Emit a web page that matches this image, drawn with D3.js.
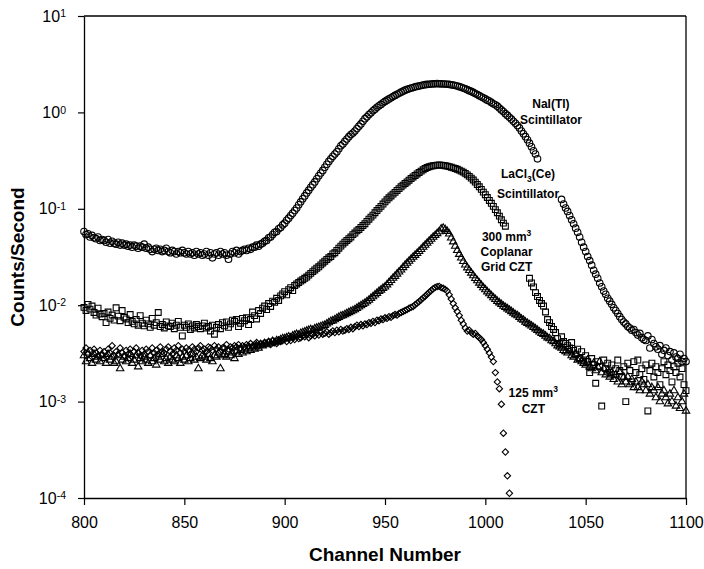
<!DOCTYPE html>
<html>
<head>
<meta charset="utf-8">
<script src="https://cdn.jsdelivr.net/npm/d3@7"></script>
<style>
  body { margin: 0; background: #fff; }
  svg { display: block; font-family: Arial, "Liberation Sans", sans-serif; }
</style>
</head>
<body>
<svg id="chart" width="704" height="569"></svg>
<script>
// Channel numbers (index 0 = channel 800, one point per channel)
const channels = d3.range(800, 1101);
const xTicks = [800, 850, 900, 950, 1000, 1050, 1100];
const yTickExponents = [-4, -3, -2, -1, 0, 1];

// NaI(Tl) scintillator - circles (null = hidden behind a label)
const naiCounts = [
  0.058, 0.054, 0.055, 0.051, 0.053, 0.050, 0.049, 0.051, 0.047, 0.048,
  0.047, 0.045, 0.048, 0.044, 0.046, 0.044, 0.043, 0.045, 0.042, 0.044,
  0.042, 0.043, 0.041, 0.042, 0.040, 0.042, 0.041, 0.039, 0.041, 0.040,
  0.043, 0.039, 0.040, 0.038, 0.036, 0.038, 0.039, 0.037, 0.038, 0.036,
  0.037, 0.039, 0.036, 0.035, 0.037, 0.036, 0.034, 0.036, 0.035, 0.037,
  0.035, 0.034, 0.036, 0.034, 0.035, 0.033, 0.036, 0.034, 0.035, 0.033,
  0.034, 0.036, 0.033, 0.035, 0.031, 0.034, 0.035, 0.033, 0.036, 0.034,
  0.035, 0.033, 0.030, 0.034, 0.036, 0.035, 0.037, 0.034, 0.036, 0.037,
  0.038, 0.037, 0.039, 0.038, 0.040, 0.040, 0.042, 0.041, 0.043, 0.044,
  0.046, 0.047, 0.050, 0.051, 0.054, 0.057, 0.058, 0.062, 0.064, 0.068,
  0.071, 0.076, 0.080, 0.085, 0.090, 0.096, 0.102, 0.110, 0.118, 0.127,
  0.136, 0.146, 0.156, 0.167, 0.178, 0.19, 0.205, 0.22, 0.235, 0.25,
  0.27, 0.29, 0.31, 0.33, 0.35, 0.37, 0.39, 0.42, 0.45, 0.47,
  0.50, 0.53, 0.56, 0.59, 0.61, 0.64, 0.68, 0.72, 0.76, 0.81,
  0.86, 0.90, 0.95, 0.99, 1.04, 1.08, 1.13, 1.17, 1.21, 1.26,
  1.30, 1.34, 1.38, 1.42, 1.46, 1.50, 1.54, 1.58, 1.62, 1.66,
  1.70, 1.73, 1.76, 1.79, 1.81, 1.84, 1.86, 1.88, 1.90, 1.92,
  1.94, 1.95, 1.96, 1.97, 1.98, 1.98, 1.99, 1.98, 1.98, 1.97,
  1.97, 1.96, 1.95, 1.93, 1.92, 1.90, 1.88, 1.85, 1.82, 1.79,
  1.76, 1.72, 1.68, 1.65, 1.61, 1.57, 1.53, 1.49, 1.45, 1.42,
  1.38, 1.34, 1.31, 1.27, 1.23, 1.20, 1.16, 1.11, 1.06, 1.02,
  0.97, 0.93, 0.89, 0.85, 0.81, 0.77, 0.73, 0.69, 0.64, 0.60,
  0.56, 0.52, 0.48, 0.44, 0.40, 0.37, 0.33, null, null, null,
  null, null, null, null, null, null, null, null, 0.125, 0.112,
  0.102, 0.094, 0.085, 0.077, 0.070, 0.063, 0.057, 0.051, 0.045, 0.040,
  0.036, 0.032, 0.029, 0.026, 0.023, 0.021, 0.019, 0.017, 0.0155, 0.014,
  0.013, 0.0118, 0.011, 0.0102, 0.0094, 0.0088, 0.0082, 0.0076, 0.0071, 0.0067,
  0.0064, 0.0060, 0.0058, 0.0055, 0.0056, 0.0052, 0.0049, 0.0051, 0.0046, 0.0044,
  0.0043, 0.0048, 0.0036, 0.0044, 0.0040, 0.0037, 0.0035, 0.0038, 0.0031, 0.0034,
  0.0036, 0.0030, 0.0033, 0.0027, 0.0032, 0.0029, 0.0028, 0.0031, 0.0026, 0.0028,
  0.0026
];

// LaCl3(Ce) scintillator - squares
const laclCounts = [
  0.0095, 0.0088, 0.0102, 0.0091, 0.0098, 0.0084, 0.0079, 0.0093, 0.0081, 0.0076,
  0.0082, 0.0066, 0.0085, 0.0073, 0.0079, 0.0070, 0.0094, 0.0077, 0.0069, 0.0088,
  0.0075, 0.0072, 0.0066, 0.0080, 0.0068, 0.0064, 0.0071, 0.0062, 0.0078, 0.0065,
  0.0061, 0.0070, 0.0064, 0.0059, 0.0073, 0.0062, 0.0066, 0.0084, 0.0060, 0.0063,
  0.0058, 0.0067, 0.0061, 0.0060, 0.0065, 0.0057, 0.0062, 0.0068, 0.0059, 0.0048,
  0.0062, 0.0059, 0.0064, 0.0056, 0.0061, 0.0058, 0.0063, 0.0060, 0.0057, 0.0061,
  0.0065, 0.0058, 0.0060, 0.0054, 0.0062, 0.0050, 0.0059, 0.0063, 0.0057, 0.0066,
  0.0061, 0.0067, 0.0059, 0.0064, 0.0070, 0.0068, 0.0071, 0.0060, 0.0065, 0.0073,
  0.0069, 0.0074, 0.0063, 0.0071, 0.0085, 0.0078, 0.0072, 0.0088, 0.0082, 0.0093,
  0.0098, 0.0090, 0.0104, 0.0097, 0.0110, 0.0107, 0.0118, 0.0112, 0.0125, 0.0131,
  0.0138, 0.0128, 0.0145, 0.0152, 0.0142, 0.0160, 0.0166, 0.0172, 0.0178, 0.0184,
  0.0190, 0.0196, 0.0205, 0.0214, 0.0223, 0.0232, 0.0242, 0.0250, 0.0262, 0.0274,
  0.0286, 0.0298, 0.031, 0.032, 0.034, 0.035, 0.037, 0.039, 0.041, 0.043,
  0.045, 0.047, 0.049, 0.051, 0.054, 0.056, 0.059, 0.061, 0.064, 0.067,
  0.070, 0.074, 0.078, 0.082, 0.086, 0.091, 0.096, 0.101, 0.106, 0.112,
  0.118, 0.124, 0.130, 0.136, 0.142, 0.148, 0.155, 0.162, 0.169, 0.176,
  0.183, 0.190, 0.198, 0.206, 0.214, 0.222, 0.230, 0.238, 0.246, 0.254,
  0.262, 0.268, 0.273, 0.277, 0.280, 0.282, 0.284, 0.285, 0.284, 0.282,
  0.280, 0.277, 0.274, 0.270, 0.266, 0.262, 0.257, 0.252, 0.246, 0.240,
  0.233, 0.225, 0.217, 0.208, 0.199, 0.189, 0.179, 0.169, 0.159, 0.149,
  0.140, 0.131, 0.122, 0.114, 0.106, 0.098, 0.091, 0.084, 0.077, 0.071,
  0.066, null, null, null, null, null, null, null, null, null,
  null, null, 0.019, 0.017, 0.0155, 0.0135, 0.0123, 0.0112, 0.0104, 0.0098,
  0.0085, 0.0071, 0.0066, 0.0060, 0.0056, 0.0052, 0.0045, 0.0040, 0.0047, 0.0042,
  0.0040, 0.0038, 0.0036, 0.0041, 0.0034, 0.0031, 0.0035, 0.0028, 0.0033, 0.0027,
  0.0030, 0.0026, 0.0020, 0.0028, 0.0024, 0.00155, 0.0026, 0.0023, 0.00090, 0.0027,
  0.0022, 0.0025, 0.0020, 0.0024, 0.0019, 0.0022, 0.0027, 0.0021, 0.0018, 0.0023,
  0.0010, 0.0025, 0.0021, 0.0016, 0.0026, 0.0020, 0.0027, 0.0019, 0.0022, 0.0017,
  0.0024, 0.0008, 0.0021, 0.0025, 0.0018, 0.0023, 0.0020, 0.0015, 0.0022, 0.0026,
  0.0019, 0.0024, 0.0021, 0.0016, 0.0023, 0.0020, 0.0025, 0.0018, 0.0022, 0.0015,
  0.0013
];

// 300 mm3 coplanar grid CZT - triangles
const czt300Counts = [
  0.0030, 0.0026, 0.0032, 0.0028, 0.0025, 0.0031, 0.0027, 0.0029, 0.0026, 0.0030,
  0.0028, 0.0025, 0.0031, 0.0027, 0.0029, 0.0025, 0.0026, 0.0030, 0.0022, 0.0027,
  0.0029, 0.0026, 0.0028, 0.0031, 0.0025, 0.0027, 0.0030, 0.0023, 0.0028, 0.0026,
  0.0029, 0.0027, 0.0025, 0.0030, 0.0026, 0.0028, 0.0024, 0.0029, 0.0027, 0.0031,
  0.0026, 0.0028, 0.0025, 0.0029, 0.0027, 0.0026, 0.0030, 0.0028, 0.0025, 0.0029,
  0.0027, 0.0030, 0.0026, 0.0028, 0.0031, 0.0027, 0.0029, 0.0022, 0.0028, 0.0030,
  0.0029, 0.0027, 0.0031, 0.0028, 0.0026, 0.0030, 0.0029, 0.0032, 0.0022, 0.0030,
  0.0031, 0.0029, 0.0033, 0.0030, 0.0032, 0.0028, 0.0033, 0.0031, 0.0034, 0.0032,
  0.0035, 0.0033, 0.0036, 0.0034, 0.0037, 0.0035, 0.0038, 0.0036, 0.0039, 0.0038,
  0.0040, 0.0039, 0.0041, 0.0040, 0.0042, 0.0041, 0.0043, 0.0042, 0.0044, 0.0045,
  0.0045, 0.0046, 0.0047, 0.0046, 0.0048, 0.0049, 0.0050, 0.0049, 0.0051, 0.0052,
  0.0053, 0.0054, 0.0055, 0.0056, 0.0055, 0.0057, 0.0058, 0.0059, 0.0060, 0.0061,
  0.0062, 0.0064, 0.0066, 0.0068, 0.0069, 0.0071, 0.0073, 0.0075, 0.0077, 0.0078,
  0.0080, 0.0082, 0.0084, 0.0086, 0.0088, 0.0090, 0.0093, 0.0096, 0.0099, 0.0102,
  0.0105, 0.0109, 0.0113, 0.0118, 0.0123, 0.0128, 0.0133, 0.0139, 0.0144, 0.0150,
  0.0155, 0.0163, 0.0172, 0.0181, 0.0191, 0.0200, 0.0211, 0.0222, 0.0233, 0.0246,
  0.0260, 0.0273, 0.0287, 0.0301, 0.0316, 0.0330, 0.0345, 0.0362, 0.0380, 0.0400,
  0.0420, 0.0440, 0.0462, 0.0485, 0.0508, 0.0530, 0.0555, 0.0580, 0.0620, 0.0630,
  0.0610, 0.0585, 0.0550, 0.0500, 0.0455, 0.0410, 0.0370, 0.0338, 0.0310, 0.0285,
  0.0262, 0.0245, 0.0230, 0.0216, 0.0203, 0.0190, 0.0180, 0.0170, 0.0161, 0.0152,
  0.0145, 0.0138, 0.0132, 0.0126, 0.0120, 0.0115, 0.0110, 0.0106, 0.0102, 0.0098,
  0.0095, 0.0092, 0.0089, 0.0086, 0.0083, 0.0080, 0.0078, 0.0075, 0.0072, 0.0070,
  0.0067, 0.0065, 0.0063, 0.0061, 0.0059, 0.0057, 0.0055, 0.0053, 0.0051, 0.0050,
  0.0048, 0.0046, 0.0045, 0.0043, 0.0042, 0.0040, 0.0038, 0.0037, 0.0036, 0.0034,
  0.0033, 0.0032, 0.0034, 0.0030, 0.0029, 0.0031, 0.0027, 0.0028, 0.0026, 0.0025,
  0.0024, 0.0027, 0.0023, 0.0022, 0.0025, 0.0021, 0.0023, 0.0026, 0.0020, 0.0022,
  0.0019, 0.0021, 0.0018, 0.0020, 0.0017, 0.0019, 0.0016, 0.0020, 0.0015, 0.0018,
  0.0016, 0.0018, 0.0015, 0.0017, 0.0014, 0.0016, 0.0014, 0.0013, 0.0016, 0.0015,
  0.0013, 0.0015, 0.0012, 0.0014, 0.0013, 0.0011, 0.0014, 0.0010, 0.0012, 0.0013,
  0.0011, 0.00095, 0.0012, 0.0010, 0.0013, 0.0009, 0.0011, 0.00085, 0.0010, 0.0012,
  0.0008
];

// 125 mm3 CZT - diamonds (ends at channel 1012)
const czt125Counts = [
  0.0033, 0.0036, 0.0031, 0.0034, 0.0029, 0.0035, 0.0032, 0.0030, 0.0034, 0.0031,
  0.0033, 0.0029, 0.0035, 0.0032, 0.0038, 0.0030, 0.0033, 0.0031, 0.0036, 0.0032,
  0.0030, 0.0034, 0.0031, 0.0035, 0.0029, 0.0033, 0.0036, 0.0032, 0.0030, 0.0034,
  0.0031, 0.0035, 0.0033, 0.0030, 0.0036, 0.0032, 0.0034, 0.0031, 0.0037, 0.0033,
  0.0032, 0.0035, 0.0037, 0.0033, 0.0031, 0.0036, 0.0034, 0.0038, 0.0032, 0.0035,
  0.0033, 0.0036, 0.0034, 0.0031, 0.0037, 0.0035, 0.0033, 0.0036, 0.0038, 0.0034,
  0.0035, 0.0033, 0.0037, 0.0036, 0.0034, 0.0038, 0.0035, 0.0037, 0.0033, 0.0036,
  0.0036, 0.0039, 0.0035, 0.0037, 0.0036, 0.0038, 0.0037, 0.0039, 0.0036, 0.0038,
  0.0037, 0.0039, 0.0038, 0.0040, 0.0037, 0.0039, 0.0041, 0.0038, 0.0040, 0.0039,
  0.0041, 0.0040, 0.0042, 0.0039, 0.0043, 0.0041, 0.0040, 0.0044, 0.0042, 0.0043,
  0.0044, 0.0042, 0.0045, 0.0043, 0.0046, 0.0044, 0.0047, 0.0045, 0.0046, 0.0048,
  0.0047, 0.0049, 0.0046, 0.0048, 0.0050, 0.0048, 0.0051, 0.0049, 0.0052, 0.0050,
  0.0051, 0.0053, 0.0050, 0.0052, 0.0054, 0.0052, 0.0055, 0.0053, 0.0056, 0.0054,
  0.0055, 0.0057, 0.0056, 0.0059, 0.0057, 0.0060, 0.0062, 0.0060, 0.0063, 0.0061,
  0.0064, 0.0063, 0.0066, 0.0065, 0.0068, 0.0066, 0.0070, 0.0069, 0.0072, 0.0071,
  0.0074, 0.0073, 0.0076, 0.0075, 0.0078, 0.0080, 0.0079, 0.0082, 0.0084, 0.0086,
  0.0088, 0.0090, 0.0093, 0.0095, 0.0097, 0.0101, 0.0105, 0.0109, 0.0114, 0.0119,
  0.0124, 0.0130, 0.0136, 0.0142, 0.0148, 0.0153, 0.0156, 0.0157, 0.0152, 0.0150,
  0.0146, 0.0140, 0.0128, 0.0116, 0.0104, 0.0094, 0.0086, 0.0078, 0.0070, 0.0064,
  0.0058, 0.0054, 0.0055, 0.0052, 0.0050, 0.0051, 0.0048, 0.0046, 0.0044, 0.0041,
  0.0038, 0.0035, 0.0032, 0.0029, 0.0026, 0.0020, 0.0016, 0.00136, 0.00094, 0.00047,
  0.00030, 0.00017, 0.000112
];

// Series labels, anchored in data space (channel, counts/second)
const labelTexts = [
  ['NaI(Tl)', 'Scintillator'],
  ['LaCl_3(Ce)', 'Scintillator'],
  ['300 mm^3', 'Coplanar', 'Grid CZT'],
  ['125 mm^3', 'CZT']
];
const labelChannels = [1032.7, 1021.3, 1010.6, 1023.9];
const labelCounts = [1.10, 0.207, 0.0463, 0.00111];

// Layout
const width = 704, height = 569;
const margin = { top: 16, right: 18, bottom: 71, left: 84 };
const plotW = width - margin.left - margin.right;
const plotH = height - margin.top - margin.bottom;

const svg = d3.select('#chart');
const g = svg.append('g').attr('transform', `translate(${margin.left},${margin.top})`);

const x = d3.scaleLinear().domain([800, 1100]).range([0, plotW]);
const y = d3.scaleLog().domain([1e-4, 10]).range([plotH, 0]);

// Frame (top and right edges)
g.append('line')
    .attr('x1', 0).attr('x2', plotW).attr('y1', 0).attr('y2', 0)
    .attr('stroke', '#000').attr('stroke-width', 1.3);
g.append('line')
    .attr('x1', plotW).attr('x2', plotW).attr('y1', 0).attr('y2', plotH)
    .attr('stroke', '#000').attr('stroke-width', 1.3);

// X axis
const xAxis = g.append('g')
    .attr('transform', `translate(0,${plotH})`)
    .call(d3.axisBottom(x)
        .tickValues(xTicks)
        .tickFormat(d3.format('d'))
        .tickSize(7).tickSizeOuter(0).tickPadding(12));

// Y axis, labels drawn as 10 with superscript exponent
const yAxis = g.append('g')
    .call(d3.axisLeft(y)
        .tickValues(yTickExponents.map(e => Math.pow(10, e)))
        .tickSize(6).tickSizeOuter(0).tickPadding(12)
        .tickFormat(() => ''));

yAxis.selectAll('.tick text').each(function(d) {
    const t = d3.select(this);
    t.append('tspan').text('10');
    t.append('tspan')
        .attr('dy', -4.5)
        .attr('font-size', 10.5)
        .text(Math.round(Math.log10(d)));
});

[xAxis, yAxis].forEach(ax => {
    ax.attr('font-family', null).attr('font-size', null);
    ax.select('.domain').attr('stroke-width', 1.3);
    ax.selectAll('.tick line').attr('stroke-width', 1.2);
    ax.selectAll('.tick text').attr('font-size', 16).attr('fill', '#000');
});

// Axis titles
svg.append('text')
    .attr('x', margin.left + plotW / 2)
    .attr('y', 561)
    .attr('text-anchor', 'middle')
    .attr('font-weight', 'bold')
    .attr('font-size', 19)
    .text('Channel Number');

svg.append('text')
    .attr('transform', `translate(24,${margin.top + plotH / 2}) rotate(-90)`)
    .attr('text-anchor', 'middle')
    .attr('font-weight', 'bold')
    .attr('font-size', 19)
    .text('Counts/Second');

// Markers
const series = [
    { values: naiCounts, type: d3.symbolCircle, size: 34, rotate: 0 },
    { values: laclCounts, type: d3.symbolSquare, size: 34, rotate: 0 },
    { values: czt300Counts, type: d3.symbolTriangle, size: 24, rotate: 0 },
    { values: czt125Counts, type: d3.symbolSquare, size: 20, rotate: 45 }
];

series.forEach(s => {
    const pts = s.values
        .map((v, i) => ({ ch: channels[i], v: v }))
        .filter(d => d.v != null && d.v > 0);

    g.append('g')
        .selectAll('path')
        .data(pts)
        .enter().append('path')
        .attr('d', d3.symbol().type(s.type).size(s.size))
        .attr('transform', d => `translate(${x(d.ch)},${y(d.v)}) rotate(${s.rotate})`)
        .attr('fill', 'none')
        .attr('stroke', '#000')
        .attr('stroke-width', 1.1);
});

// Series labels (^ = superscript, _ = subscript)
const lineGaps = [16, 19.5, 15, 16];

function addRichLine(textSel, str) {
    const parts = str.split(/([_^]\w)/).filter(p => p !== '');
    let shift = 0;
    parts.forEach(p => {
        const span = textSel.append('tspan');
        if (p[0] === '^' || p[0] === '_') {
            const dy = p[0] === '^' ? -5 : 3.5;
            span.attr('dy', dy).attr('font-size', 8.5).text(p.slice(1));
            shift = -dy;
        } else {
            if (shift) span.attr('dy', shift);
            shift = 0;
            span.text(p);
        }
    });
}

labelTexts.forEach((lines, k) => {
    const lg = g.append('g')
        .attr('transform', `translate(${x(labelChannels[k])},${y(labelCounts[k])})`);
    lines.forEach((line, j) => {
        const t = lg.append('text')
            .attr('y', j * lineGaps[k])
            .attr('text-anchor', 'middle')
            .attr('font-weight', 'bold')
            .attr('font-size', 12);
        addRichLine(t, line);
    });
});
</script>
</body>
</html>
